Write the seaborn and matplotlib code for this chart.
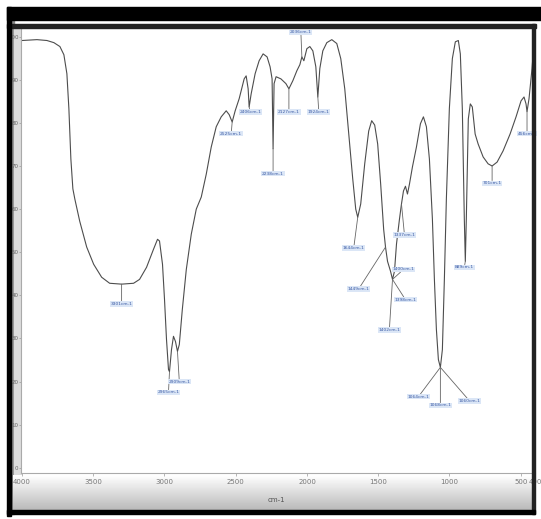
import matplotlib
matplotlib.use('Agg')
import matplotlib.pyplot as plt
import matplotlib.patches as mpatches
import seaborn as sns
import pandas as pd
import numpy as np

# FTIR spectrum (wavenumber cm-1, %T)
wavenumber = [4000, 3895, 3825, 3776, 3734, 3706, 3685, 3671, 3657, 3643, 3629, 3595, 3546, 3497,
              3441, 3385, 3301, 3217, 3175, 3126, 3077, 3049, 3035, 3014, 3000, 2986, 2972, 2965,
              2951, 2937, 2923, 2909, 2896, 2875, 2847, 2812, 2777, 2742, 2707, 2672, 2637, 2602,
              2567, 2546, 2525, 2504, 2476, 2441, 2427, 2413, 2406, 2392, 2364, 2336, 2308, 2280,
              2259, 2245, 2238, 2231, 2217, 2183, 2148, 2127, 2099, 2071, 2050, 2036, 2022, 2001,
              1980, 1959, 1938, 1924, 1910, 1889, 1861, 1826, 1791, 1763, 1735, 1707, 1679, 1658,
              1644, 1623, 1595, 1567, 1546, 1525, 1504, 1483, 1462, 1449, 1435, 1414, 1400, 1386,
              1372, 1351, 1337, 1323, 1309, 1295, 1281, 1260, 1232, 1204, 1183, 1162, 1141, 1120,
              1106, 1092, 1078, 1064, 1050, 1036, 1022, 1001, 980, 959, 938, 924, 910, 896, 889,
              882, 868, 854, 840, 820, 799, 764, 729, 701, 666, 624, 575, 533, 498, 477, 463, 456,
              442, 421, 407, 400]
transmittance = [99.1, 99.3, 99.1, 98.6, 97.7, 95.8, 91.4, 83.3, 71.6, 64.7, 62.3, 57.2, 51.2, 47.2,
                 44.2, 42.8, 42.6, 42.8, 43.7, 46.5, 50.7, 53.0, 52.6, 47.2, 39.1, 29.8, 22.8, 22.3,
                 27.4, 30.5, 29.3, 27.0, 28.6, 36.7, 46.0, 54.2, 60.0, 62.8, 68.1, 74.4, 79.1, 81.4,
                 82.8, 81.9, 80.2, 82.8, 85.6, 90.2, 90.9, 87.9, 83.7, 86.7, 91.4, 94.4, 96.0, 95.3,
                 93.0, 90.2, 74.0, 89.1, 90.7, 90.2, 89.1, 87.9, 89.8, 92.1, 93.5, 95.3, 94.4, 97.2,
                 97.7, 96.7, 93.0, 86.0, 92.6, 96.7, 98.6, 99.3, 98.4, 94.9, 87.9, 77.4, 67.0, 60.0,
                 58.1, 61.2, 70.5, 78.1, 80.5, 79.5, 75.1, 65.8, 55.3, 51.2, 47.9, 45.6, 43.7, 45.6,
                 51.9, 57.7, 61.2, 64.2, 65.3, 63.5, 65.8, 69.8, 74.4, 79.8, 81.4, 79.1, 71.6, 57.7,
                 43.7, 32.1, 25.1, 23.3, 27.4, 43.7, 62.3, 83.3, 94.9, 98.8, 99.1, 96.0, 83.3, 57.7, 47.9,
                 57.7, 80.9, 84.4, 83.7, 77.4, 75.1, 72.1, 70.5, 70.0, 70.9, 73.5, 77.4, 81.4, 85.1, 86.0,
                 84.4, 82.6, 85.6, 92.6, 98.4, 99.5]

# peak labels: (peak wavenumber, peak %T, label wavenumber, label %T)
peak_text = ['3301cm-1', '2965cm-1', '2909cm-1', '2525cm-1', '2406cm-1', '2238cm-1', '2127cm-1',
             '2036cm-1', '1924cm-1', '1644cm-1', '1449cm-1', '1400cm-1', '1398cm-1', '1402cm-1',
             '1337cm-1', '1064cm-1', '1068cm-1', '1060cm-1', '889cm-1', '701cm-1', '456cm-1']
peak_wn = [3301, 2965, 2909, 2525, 2406, 2238, 2127, 2036, 1924, 1644, 1449, 1400, 1400, 1400,
           1337, 1064, 1064, 1064, 889, 701, 456]
peak_t = [42.6, 22.3, 27.0, 80.2, 83.7, 74.0, 87.9, 95.3, 86.0, 58.1, 51.2, 43.7, 43.7, 43.7,
          61.2, 23.3, 23.3, 23.3, 47.9, 70.0, 82.6]
label_wn = [3301, 2972, 2896, 2532, 2399, 2238, 2127, 2043, 1917, 1672, 1637, 1323, 1309, 1422,
            1316, 1218, 1064, 859, 896, 701, 456]
label_t = [38.0, 17.5, 20.0, 77.5, 82.5, 68.2, 82.5, 101.0, 82.5, 51.0, 41.5, 46.0, 39.0, 32.0,
           54.0, 16.5, 14.5, 15.5, 46.5, 66.0, 77.5]

xticks = [4000, 3500, 3000, 2500, 2000, 1500, 1000, 500, 400]
yticks = [0, 10, 20, 30, 40, 50, 60, 70, 80, 90, 100]

W, H = 541, 519
fig = plt.figure(figsize=(W / 100, H / 100), dpi=100, facecolor='white')


def fx(px):
    return px / W


def fy(py):
    return 1 - py / H


# gray gradient band under the x axis
band = fig.add_axes([fx(13), fy(511), fx(533) - fx(13), fy(475) - fy(511)])
band.imshow(np.linspace(1.0, 0.72, 50).reshape(-1, 1), cmap='gray', vmin=0, vmax=1,
            aspect='auto', extent=[0, 1, 0, 1])
band.axis('off')

ax = fig.add_axes([fx(21), fy(473), fx(535) - fx(21), fy(28) - fy(473)])
df = pd.DataFrame({'wavenumber': wavenumber, 'T': transmittance})
sns.lineplot(data=df, x='wavenumber', y='T', ax=ax, color='#4d4d4d', linewidth=0.8,
             sort=False, estimator=None)
ax.set_xlim(4007, 400)
ax.set_ylim(-1.2, 102)
ax.set_xticks(xticks)
ax.set_xticklabels([str(t) for t in xticks], fontsize=5, color='#777777')
ax.set_yticks(yticks)
ax.set_yticklabels([str(t) for t in yticks], fontsize=4, color='#666666')
ax.tick_params(axis='x', length=2, width=0.5, color='#999999', pad=2)
ax.tick_params(axis='y', length=1.5, width=0.5, color='#999999', pad=0.3)
ax.set_xlabel('')
ax.set_ylabel('')
for s in ['top', 'right']:
    ax.spines[s].set_visible(False)
for s in ['bottom', 'left']:
    ax.spines[s].set_color('#aaaaaa')
    ax.spines[s].set_linewidth(0.8)
ax.set_facecolor('white')

for txt, pw, pt, lw, lt in zip(peak_text, peak_wn, peak_t, label_wn, label_t):
    ax.annotate(txt, xy=(pw, pt), xytext=(lw, lt), fontsize=3.2, color='#3b5ba5',
                ha='center', va='center', annotation_clip=False,
                bbox=dict(boxstyle='square,pad=0.15', fc='#dbe6f6', ec='none'),
                arrowprops=dict(arrowstyle='-', color='#666666', lw=0.6,
                                shrinkA=0, shrinkB=0))

fig.text(fx(276), fy(500), 'cm-1', fontsize=5, color='#555555', ha='center', va='center')

# frame decorations: (x, y, w, h, colour, zorder)
rects = [
    (11, 20, 3, 494, '#888888', -2),
    (14, 28, 7, 448, '#dcdcdc', -2),
    (7, 7, 534, 13, 'black', 5),       # top black bar
    (7, 24, 529, 4, '#222222', 5),     # dark line under bar
    (7, 7, 4, 509, 'black', 5),        # left border
    (532, 24, 3, 490, '#222222', 5),   # right border
    (7, 510, 528, 4, 'black', 5),      # bottom border
]
for x0, y0, w, h, c, z in rects:
    fig.patches.append(mpatches.Rectangle((fx(x0), fy(y0 + h)), w / W, h / H,
                                          transform=fig.transFigure, color=c, zorder=z))

fig.savefig('out.png', dpi=100, facecolor='white')
